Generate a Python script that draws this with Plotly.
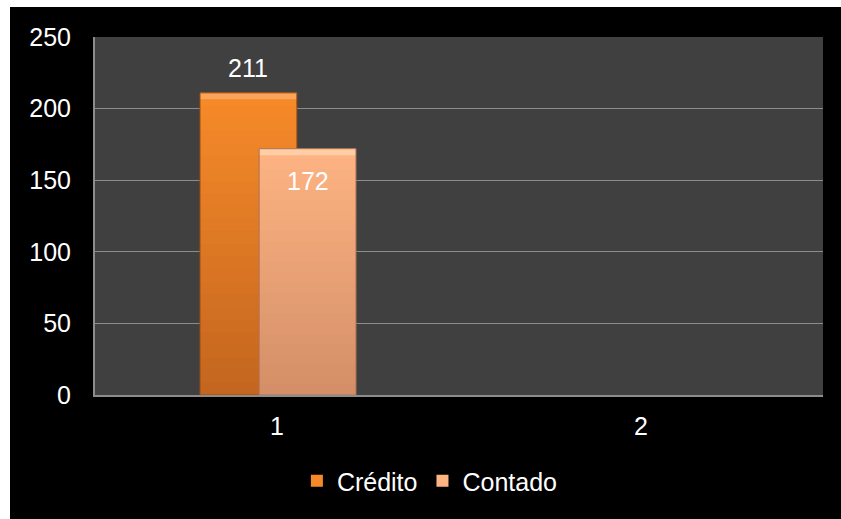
import plotly.graph_objects as go

# Chart data
categories = [1, 2]
credito = [211, None]
contado = [172, None]
series_names = ["Crédito", "Contado"]
y_ticks = [0, 50, 100, 150, 200, 250]

# Styling per series: (top colour, bottom colour, outline, bevel colour, bar offset)
BAR_WIDTH = 0.266
styles = {
    "Crédito": ("#F68A29", "#C4661F", "#9A4C14", "#FAA55A", -0.2115),
    "Contado": ("#FDB382", "#D48F68", "#B07050", "#FFCDA6", -0.049),
}
FONT = "Liberation Sans, Arial, sans-serif"
STEPS = 24
BEVEL = 4.5  # depth of the lighter top band, in axis units


def hex_to_rgb(h):
    h = h.lstrip("#")
    return tuple(int(h[i:i + 2], 16) for i in (0, 2, 4))


def blend(c1, c2, t):
    a, b = hex_to_rgb(c1), hex_to_rgb(c2)
    return "rgb({},{},{})".format(*[round(a[i] + (b[i] - a[i]) * t) for i in range(3)])


fig = go.Figure()

for name, values in zip(series_names, [credito, contado]):
    top, bottom, edge, bevel, offset = styles[name]
    # vertical gradient: stacked overlays, each shorter and darker
    for k in range(STEPS):
        frac = 1 - k / STEPS
        ys = [v * frac if v is not None else None for v in values]
        fig.add_trace(go.Bar(
            x=categories, y=ys, name=name, legendgroup=name,
            showlegend=(k == 0),
            offset=offset, width=BAR_WIDTH,
            marker=dict(color=blend(top, bottom, k / (STEPS - 1)), line=dict(width=0)),
            hoverinfo="skip",
        ))
    # lighter bevel band along the top edge
    fig.add_trace(go.Bar(
        x=categories, y=[BEVEL if v is not None else None for v in values],
        base=[v - BEVEL if v is not None else None for v in values],
        name=name, legendgroup=name, showlegend=False,
        offset=offset, width=BAR_WIDTH,
        marker=dict(color=bevel, line=dict(width=0)),
        hoverinfo="skip",
    ))
    # outline on top of the gradient
    fig.add_trace(go.Bar(
        x=categories, y=values, name=name, legendgroup=name, showlegend=False,
        offset=offset, width=BAR_WIDTH,
        marker=dict(color="rgba(0,0,0,0)", line=dict(width=1, color=edge)),
        hoverinfo="skip",
    ))

# value labels
label_shift = {"Crédito": 25, "Contado": -32}
for name, values in zip(series_names, [credito, contado]):
    offset = styles[name][4]
    for c, v in zip(categories, values):
        if v is None:
            continue
        fig.add_annotation(
            x=c + offset + BAR_WIDTH / 2, y=v, text=str(v), showarrow=False,
            yshift=label_shift[name], font=dict(family=FONT, size=25, color="white"),
        )

# white strips at the left and top edges of the canvas
PL, PR, PT, PB = 95, 823, 37, 395
pw, ph = PR - PL, PB - PT


def px_x(x):
    return (x - PL) / pw


def px_y(y):
    return (PB - y) / ph


fig.add_shape(type="rect", xref="paper", yref="paper",
              x0=px_x(-2), x1=px_x(10), y0=px_y(530), y1=px_y(-2),
              fillcolor="white", line=dict(width=0), layer="above")
fig.add_shape(type="rect", xref="paper", yref="paper",
              x0=px_x(-2), x1=px_x(850), y0=px_y(7), y1=px_y(-2),
              fillcolor="white", line=dict(width=0), layer="above")

fig.update_layout(
    width=841, height=519,
    margin=dict(l=PL, r=841 - PR, t=PT, b=519 - PB),
    paper_bgcolor="black", plot_bgcolor="#404040",
    barmode="overlay",
    font=dict(family=FONT, size=25, color="white"),
    showlegend=True,
    legend=dict(orientation="h", x=0.46, xanchor="center", y=px_y(481), yanchor="middle",
                font=dict(family=FONT, size=25, color="white"),
                bgcolor="rgba(0,0,0,0)", itemsizing="constant"),
    xaxis=dict(range=[0.5, 2.5], tickvals=categories, ticktext=[str(c) for c in categories],
               showgrid=False, showline=True, linecolor="#8C8C8C", linewidth=2,
               ticks="", ticklabelstandoff=8, zeroline=False,
               tickfont=dict(family=FONT, size=25, color="white")),
    yaxis=dict(range=[0, 250], tickvals=y_ticks, showgrid=True, gridcolor="#8C8C8C", gridwidth=1,
               showline=True, linecolor="#8C8C8C", linewidth=2, ticks="",
               ticklabelstandoff=17, zeroline=False,
               tickfont=dict(family=FONT, size=25, color="white")),
)

fig.write_html("out.html")
